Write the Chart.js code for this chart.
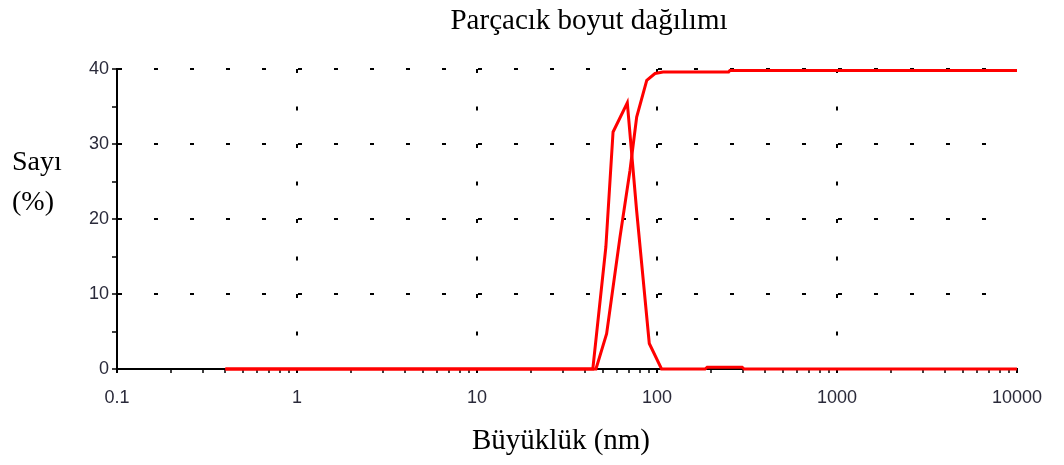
<!DOCTYPE html>
<html>
<head>
<meta charset="utf-8">
<script src="https://cdn.jsdelivr.net/npm/chart.js@4"></script>
<style>
  html, body { margin: 0; padding: 0; background: #fff; }
  #wrap { width: 1064px; height: 465px; }
</style>
</head>
<body>
<div id="wrap"><canvas id="chart-size"></canvas></div>
<script>
const titleText = "Parçacık boyut dağılımı";
const xTitle = "Büyüklük (nm)";
const yTitleLines = ["Sayı", "(%)"];

const xTickLabels = [0.1, 1, 10, 100, 1000, 10000];
const yTickLabels = [0, 10, 20, 30, 40];

// number distribution (%)
const distSizes = [0.4, 44, 52, 57, 68.4, 77, 90.6, 106, 185, 190, 297, 305, 10000];
const distValues = [0, 0, 16.3, 31.6, 35.5, 21.2, 3.4, 0, 0, 0.25, 0.25, 0, 0];

// cumulative curve
const cumSizes = [0.4, 45.8, 52.5, 62.3, 70.8, 77.1, 87.7, 97.5, 108, 250, 254, 10000];
const cumValues = [0, 0, 4.7, 17.6, 26.5, 33.6, 38.5, 39.4, 39.6, 39.6, 39.8, 39.8];

const toPoints = (xs, ys) => xs.map((x, i) => ({ x: x, y: ys[i] }));

const isDecade = (v) => Math.abs(Math.log10(v) - Math.round(Math.log10(v))) < 1e-6;

const textPlugin = {
  id: "texts",
  afterDraw(chart) {
    const c = chart.ctx;
    c.save();
    c.fillStyle = "#000";
    c.font = "29px 'Liberation Serif', 'Times New Roman', serif";
    c.textAlign = "center";
    c.textBaseline = "middle";
    c.fillText(titleText, 589, 21);
    c.fillText(xTitle, 561, 441);
    c.font = "28px 'Liberation Serif', 'Times New Roman', serif";
    c.textAlign = "left";
    c.fillText(yTitleLines[0], 12, 163);
    c.fillText(yTitleLines[1], 12, 203);
    c.restore();
  },
};

const ctx = document.querySelector("#chart-size").getContext("2d");

new Chart(ctx, {
  type: "scatter",
  data: {
    datasets: [
      { data: toPoints(distSizes, distValues) },
      { data: toPoints(cumSizes, cumValues) },
    ],
  },
  options: {
    responsive: true,
    maintainAspectRatio: false,
    animation: false,
    events: [],
    layout: { padding: { top: 69, right: 47, left: 0, bottom: 0 } },
    elements: {
      line: { borderColor: "#ff0000", borderWidth: 3, tension: 0 },
      point: { radius: 0 },
    },
    datasets: { scatter: { showLine: true, clip: false } },
    scales: {
      x: {
        type: "logarithmic",
        min: 0.1,
        max: 10000,
        afterBuildTicks(scale) {
          scale.ticks = scale.ticks.filter((t) => {
            const m = t.value / Math.pow(10, Math.floor(Math.log10(t.value) + 1e-9));
            return Math.abs(m - Math.round(m)) < 1e-6;
          });
        },
        afterFit(scale) { scale.height = 96; },
        border: { display: true, color: "#000", width: 2, dash: [4, 33.5] },
        grid: {
          color: (c) => c.tick && isDecade(c.tick.value) && c.tick.value > 0.1 && c.tick.value < 10000 ? "#000" : "rgba(0,0,0,0)",
          lineWidth: 2,
          tickColor: "#000",
          tickLength: 4,
          tickWidth: (c) => c.tick && isDecade(c.tick.value) ? 2 : 1.5,
        },
        ticks: {
          autoSkip: false,
          maxRotation: 0,
          padding: 14,
          color: "#2a2a3a",
          font: { family: "'Liberation Sans', Arial, sans-serif", size: 18 },
          callback: (v) => {
            const hit = xTickLabels.find((t) => Math.abs(t - v) < 1e-9 * t);
            return hit !== undefined ? String(hit) : "";
          },
        },
      },
      y: {
        min: 0,
        max: 40,
        afterFit(scale) { scale.width = 117; },
        border: { display: true, color: "#000", width: 2, dash: [4, 32] },
        grid: {
          color: (c) => c.tick && c.tick.value > 0 && c.tick.value % 10 === 0 ? "#000" : "rgba(0,0,0,0)",
          lineWidth: 2,
          tickColor: "#000",
          tickLength: 5,
          tickWidth: 1.5,
        },
        ticks: {
          stepSize: 5,
          padding: 3,
          color: "#2a2a3a",
          font: { family: "'Liberation Sans', Arial, sans-serif", size: 18 },
          callback: (v) => (yTickLabels.includes(v) ? String(v) : ""),
        },
      },
    },
    plugins: {
      legend: { display: false },
      title: { display: false },
      tooltip: { enabled: false },
    },
  },
  plugins: [textPlugin],
});
</script>
</body>
</html>
